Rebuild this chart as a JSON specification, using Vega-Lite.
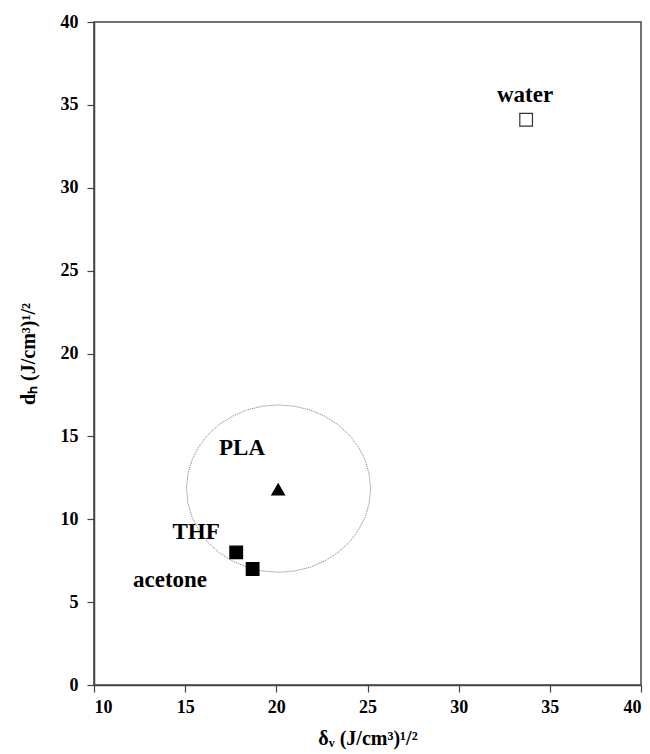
{
  "$schema": "https://vega.github.io/schema/vega-lite/v6.json",
  "width": 547,
  "height": 663,
  "autosize": {"type": "none"},
  "padding": {"left": 94, "top": 22, "right": 9, "bottom": 69},
  "background": "white",
  "config": {
    "view": {"stroke": "#444", "strokeWidth": 1.5},
    "font": "Liberation Serif",
    "axis": {
      "grid": false,
      "domainColor": "#444",
      "domainWidth": 1.5,
      "tickColor": "#444",
      "tickWidth": 1.2,
      "tickSize": 7,
      "labelFont": "Liberation Serif",
      "labelFontWeight": "bold",
      "labelFontSize": 18,
      "labelColor": "black",
      "titleFont": "Liberation Serif",
      "titleFontWeight": "bold",
      "titleFontSize": 20,
      "titleColor": "black"
    }
  },
  "datasets": {
    "solvents": [
      {"name": "PLA", "dv": 20.1, "dh": 11.8, "kind": "polymer"},
      {"name": "THF", "dv": 17.8, "dh": 8.0, "kind": "good solvent"},
      {"name": "acetone", "dv": 18.7, "dh": 7.0, "kind": "good solvent"},
      {"name": "water", "dv": 33.7, "dh": 34.1, "kind": "non-solvent"}
    ],
    "labels": [
      {"text": "PLA", "lx": 18.12, "ly": 14.3},
      {"text": "THF", "lx": 15.6, "ly": 9.25},
      {"text": "acetone", "lx": 14.17, "ly": 6.33},
      {"text": "water", "lx": 33.64, "ly": 35.6}
    ],
    "sphere": [
      {"o": 0, "x": 25.17, "y": 11.85},
      {"o": 1, "x": 25.09, "y": 12.73},
      {"o": 2, "x": 24.87, "y": 13.58},
      {"o": 3, "x": 24.49, "y": 14.38},
      {"o": 4, "x": 23.99, "y": 15.10},
      {"o": 5, "x": 23.37, "y": 15.72},
      {"o": 6, "x": 22.65, "y": 16.22},
      {"o": 7, "x": 21.85, "y": 16.60},
      {"o": 8, "x": 21.00, "y": 16.82},
      {"o": 9, "x": 20.12, "y": 16.90},
      {"o": 10, "x": 19.24, "y": 16.82},
      {"o": 11, "x": 18.39, "y": 16.60},
      {"o": 12, "x": 17.60, "y": 16.22},
      {"o": 13, "x": 16.87, "y": 15.72},
      {"o": 14, "x": 16.25, "y": 15.10},
      {"o": 15, "x": 15.75, "y": 14.38},
      {"o": 16, "x": 15.38, "y": 13.58},
      {"o": 17, "x": 15.15, "y": 12.73},
      {"o": 18, "x": 15.07, "y": 11.85},
      {"o": 19, "x": 15.15, "y": 10.97},
      {"o": 20, "x": 15.38, "y": 10.12},
      {"o": 21, "x": 15.75, "y": 9.33},
      {"o": 22, "x": 16.25, "y": 8.60},
      {"o": 23, "x": 16.87, "y": 7.98},
      {"o": 24, "x": 17.60, "y": 7.48},
      {"o": 25, "x": 18.39, "y": 7.10},
      {"o": 26, "x": 19.24, "y": 6.88},
      {"o": 27, "x": 20.12, "y": 6.80},
      {"o": 28, "x": 21.00, "y": 6.88},
      {"o": 29, "x": 21.85, "y": 7.10},
      {"o": 30, "x": 22.65, "y": 7.48},
      {"o": 31, "x": 23.37, "y": 7.98},
      {"o": 32, "x": 23.99, "y": 8.60},
      {"o": 33, "x": 24.49, "y": 9.33},
      {"o": 34, "x": 24.87, "y": 10.12},
      {"o": 35, "x": 25.09, "y": 10.97},
      {"o": 36, "x": 25.17, "y": 11.85}
    ]
  },
  "layer": [
    {
      "data": {"name": "sphere"},
      "mark": {"type": "line", "color": "#777", "strokeWidth": 1, "strokeDash": [1, 1], "interpolate": "linear"},
      "encoding": {
        "x": {"field": "x", "type": "quantitative", "scale": {"domain": [10, 40]},
              "axis": {"values": [10, 15, 20, 25, 30, 35, 40], "title": "δᵥ (J/cm³)¹/²", "titlePadding": 12, "labelPadding": 6}},
        "y": {"field": "y", "type": "quantitative", "scale": {"domain": [0, 40]},
              "axis": {"values": [0, 5, 10, 15, 20, 25, 30, 35, 40], "title": "dₕ (J/cm³)¹/²", "titlePadding": 22, "labelPadding": 9}},
        "order": {"field": "o", "type": "quantitative"}
      }
    },
    {
      "data": {"name": "solvents"},
      "mark": {"type": "point", "size": 160, "strokeWidth": 1.2, "opacity": 1},
      "encoding": {
        "x": {"field": "dv", "type": "quantitative"},
        "y": {"field": "dh", "type": "quantitative"},
        "shape": {"field": "kind", "type": "nominal",
                  "scale": {"domain": ["polymer", "good solvent", "non-solvent"], "range": ["triangle-up", "square", "square"]}, "legend": null},
        "fill": {"field": "kind", "type": "nominal",
                 "scale": {"domain": ["polymer", "good solvent", "non-solvent"], "range": ["black", "black", "white"]}, "legend": null},
        "stroke": {"field": "kind", "type": "nominal",
                   "scale": {"domain": ["polymer", "good solvent", "non-solvent"], "range": ["black", "black", "#333"]}, "legend": null}
      }
    },
    {
      "data": {"name": "labels"},
      "mark": {"type": "text", "font": "Liberation Serif", "fontWeight": "bold", "fontSize": 23, "color": "black", "align": "center", "baseline": "middle"},
      "encoding": {
        "x": {"field": "lx", "type": "quantitative"},
        "y": {"field": "ly", "type": "quantitative"},
        "text": {"field": "text", "type": "nominal"}
      }
    }
  ]
}
